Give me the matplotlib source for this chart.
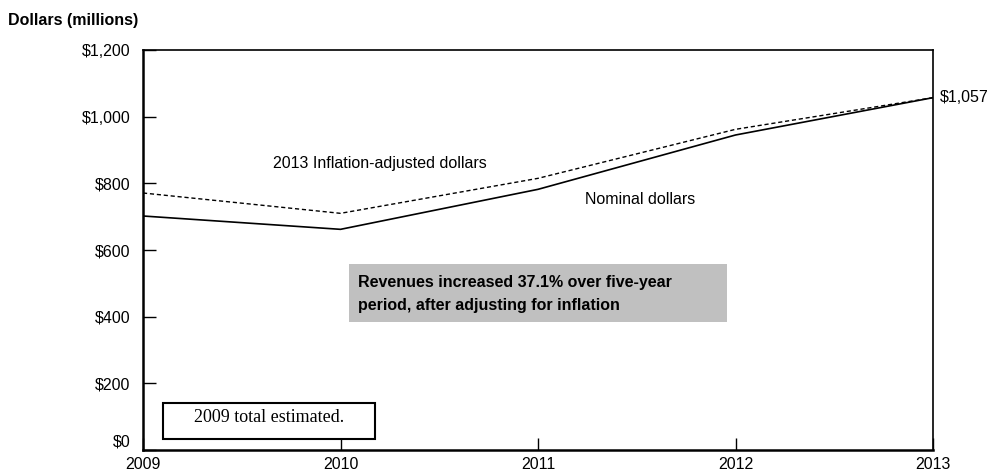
import matplotlib.pyplot as plt
from matplotlib.patches import Rectangle

# data
years = [2009, 2010, 2011, 2012, 2013]
nominal = [702, 662, 782, 945, 1057]
adjusted = [771, 710, 815, 962, 1057]
y_ticks = [0, 200, 400, 600, 800, 1000, 1200]
y_labels = ['$0', '$200', '$400', '$600', '$800', '$1,000', '$1,200']

plt.rcParams['font.family'] = ['Liberation Sans', 'DejaVu Sans']
fs = 11.5

W, H = 993, 472
fig = plt.figure(figsize=(W / 100, H / 100), dpi=100)


def fx(px):
    return px / W


def fy(py):
    return 1 - py / H


ax = fig.add_axes([fx(143), fy(450), fx(933) - fx(143), fy(50) - fy(450)])

ax.plot(years, nominal, color='black', lw=1.2)
ax.plot(years, adjusted, color='black', lw=1.0, linestyle=(0, (3, 2)))

ax.set_xlim(2009, 2013)
ax.set_ylim(0, 1200)
ax.set_xticks(years)
ax.set_xticklabels([str(y) for y in years], fontsize=fs)
ax.set_yticks(y_ticks)
ax.set_yticklabels(y_labels, fontsize=fs)
ax.get_yticklabels()[0].set_va('bottom')  # $0 sits a bit above the axis
ax.tick_params(axis='both', direction='in', length=9, width=1)
ax.tick_params(axis='x', pad=5)
ax.tick_params(axis='y', pad=9)
for s in ax.spines.values():
    s.set_linewidth(1.2)
ax.spines['left'].set_linewidth(1.8)
ax.spines['bottom'].set_linewidth(1.8)

# labels
fig.text(fx(8), fy(20), 'Dollars (millions)', fontsize=fs, fontweight='bold',
         ha='left', va='center')
fig.text(fx(380), fy(163), '2013 Inflation-adjusted dollars', fontsize=fs,
         ha='center', va='center')
fig.text(fx(640), fy(200), 'Nominal dollars', fontsize=fs, ha='center', va='center')
fig.text(fx(940), fy(97), '$1,057', fontsize=fs, ha='left', va='center')

# shaded note
fig.patches.append(Rectangle((fx(349), fy(322)), fx(727) - fx(349), fy(264) - fy(322),
                             transform=fig.transFigure, facecolor='#c0c0c0',
                             edgecolor='none', zorder=3))
fig.text(fx(358), fy(294), 'Revenues increased 37.1% over five-year\nperiod, after adjusting for inflation',
         fontsize=fs, fontweight='bold', ha='left', va='center', linespacing=1.6, zorder=4)

# estimate note
fig.patches.append(Rectangle((fx(163), fy(439)), fx(375) - fx(163), fy(403) - fy(439),
                             transform=fig.transFigure, facecolor='white',
                             edgecolor='black', lw=1.5, zorder=3))
fig.text(fx(269), fy(418), '2009 total estimated.', fontsize=13,
         family=['Liberation Serif', 'DejaVu Serif'], ha='center', va='center', zorder=4)

fig.savefig('out.png', dpi=100)
